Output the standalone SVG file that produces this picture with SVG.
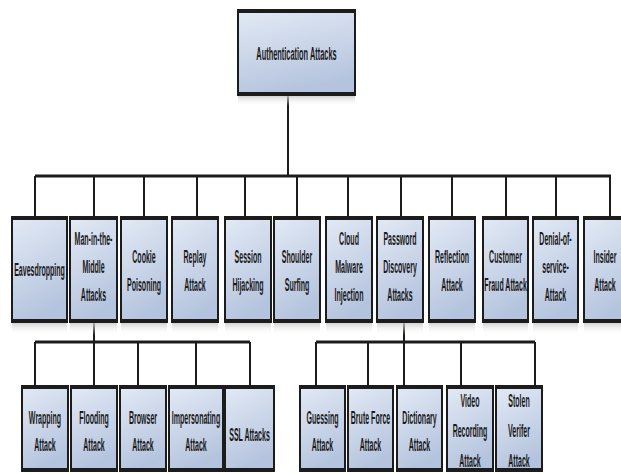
<svg xmlns="http://www.w3.org/2000/svg" width="621" height="474" viewBox="0 0 621 474">
<defs>
<linearGradient id="fill" x1="0" y1="0" x2="0.3" y2="1">
<stop offset="0" stop-color="#e3eaf5"/>
<stop offset="1" stop-color="#b5c4de"/>
</linearGradient>
<linearGradient id="refl" x1="0" y1="0" x2="0" y2="1">
<stop offset="0" stop-color="#c8c8c8" stop-opacity="0.8"/>
<stop offset="1" stop-color="#ffffff" stop-opacity="0"/>
</linearGradient>
<style>
.box{fill:url(#fill);stroke:#1c1c1c;stroke-width:2}
.edge{fill:none;stroke:#1c1c1c;stroke-width:4}
.refl{fill:url(#refl)}
.lbl{font-family:"Liberation Sans",Arial,sans-serif;font-size:19px;font-weight:bold;fill:#1a1a1a;text-anchor:middle;dominant-baseline:central}
.bus{fill:none;stroke:#1c1c1c;stroke-width:3}
.drop{fill:none;stroke:#1c1c1c;stroke-width:2}
</style>
</defs>
<rect width="621" height="474" fill="#ffffff"/>

<g id="connectors">
<path class="drop" d="M288 95V176"/>
<path class="bus" d="M35 176H611"/>
<path class="drop" d="M35 176V217M94 176V217M144 176V217M197 176V217M245 176V217M297 176V217M348 176V217M401 176V217M452 176V217M506 176V217M556 176V217M610 176V217"/>
<path class="drop" d="M94 322V386"/>
<path class="bus" d="M35 342H250"/>
<path class="drop" d="M35 342V386M138 342V386M196 342V386M250 342V386"/>
<path class="drop" d="M404 322V386"/>
<path class="bus" d="M316 342H535"/>
<path class="drop" d="M316 342V386M368 342V386M461 342V386M535 342V386"/>
</g>

<g id="root">
<rect class="refl" x="238" y="96" width="117" height="10"/>
<rect class="box" x="238" y="10" width="117" height="85"/>
<path class="edge" d="M238 11H355M238 94H355"/>
<text class="lbl" transform="translate(296.5 53) scale(0.39 1)" x="0" y="0">Authentication Attacks</text>
</g>

<g id="eavesdropping">
<rect class="refl" x="12" y="323" width="55" height="12"/>
<rect class="box" x="12" y="217" width="55" height="105"/>
<path class="edge" d="M12 218H67M12 321H67"/>
<text class="lbl" transform="translate(39.5 269) scale(0.37 1)" x="0" y="0">Eavesdropping</text>
</g>
<g id="mitm">
<rect class="refl" x="70" y="323" width="47" height="12"/>
<rect class="box" x="70" y="217" width="47" height="105"/>
<path class="edge" d="M70 218H117M70 321H117"/>
<text class="lbl" transform="translate(93.5 266) scale(0.37 1)"><tspan x="0" y="-28">Man-in-the-</tspan><tspan x="0" y="0">Middle</tspan><tspan x="0" y="28">Attacks</tspan></text>
</g>
<g id="cookie">
<rect class="refl" x="121" y="323" width="46" height="12"/>
<rect class="box" x="121" y="217" width="46" height="105"/>
<path class="edge" d="M121 218H167M121 321H167"/>
<text class="lbl" transform="translate(144 270) scale(0.37 1)"><tspan x="0" y="-14">Cookie</tspan><tspan x="0" y="14">Poisoning</tspan></text>
</g>
<g id="replay">
<rect class="refl" x="172" y="323" width="46" height="12"/>
<rect class="box" x="172" y="217" width="46" height="105"/>
<path class="edge" d="M172 218H218M172 321H218"/>
<text class="lbl" transform="translate(195 270) scale(0.37 1)"><tspan x="0" y="-14">Replay</tspan><tspan x="0" y="14">Attack</tspan></text>
</g>
<g id="session">
<rect class="refl" x="225" y="323" width="46" height="12"/>
<rect class="box" x="225" y="217" width="46" height="105"/>
<path class="edge" d="M225 218H271M225 321H271"/>
<text class="lbl" transform="translate(248 270) scale(0.37 1)"><tspan x="0" y="-14">Session</tspan><tspan x="0" y="14">Hijacking</tspan></text>
</g>
<g id="shoulder">
<rect class="refl" x="274" y="323" width="46" height="12"/>
<rect class="box" x="274" y="217" width="46" height="105"/>
<path class="edge" d="M274 218H320M274 321H320"/>
<text class="lbl" transform="translate(297 270) scale(0.37 1)"><tspan x="0" y="-14">Shoulder</tspan><tspan x="0" y="14">Surfing</tspan></text>
</g>
<g id="cloud">
<rect class="refl" x="326" y="323" width="46" height="12"/>
<rect class="box" x="326" y="217" width="46" height="105"/>
<path class="edge" d="M326 218H372M326 321H372"/>
<text class="lbl" transform="translate(349 266) scale(0.37 1)"><tspan x="0" y="-28">Cloud</tspan><tspan x="0" y="0">Malware</tspan><tspan x="0" y="28">Injection</tspan></text>
</g>
<g id="password">
<rect class="refl" x="377" y="323" width="46" height="12"/>
<rect class="box" x="377" y="217" width="46" height="105"/>
<path class="edge" d="M377 218H423M377 321H423"/>
<text class="lbl" transform="translate(400 266) scale(0.37 1)"><tspan x="0" y="-28">Password</tspan><tspan x="0" y="0">Discovery</tspan><tspan x="0" y="28">Attacks</tspan></text>
</g>
<g id="reflection">
<rect class="refl" x="429" y="323" width="46" height="12"/>
<rect class="box" x="429" y="217" width="46" height="105"/>
<path class="edge" d="M429 218H475M429 321H475"/>
<text class="lbl" transform="translate(452 270) scale(0.37 1)"><tspan x="0" y="-14">Reflection</tspan><tspan x="0" y="14">Attack</tspan></text>
</g>
<g id="customer">
<rect class="refl" x="483" y="323" width="45" height="12"/>
<rect class="box" x="483" y="217" width="45" height="105"/>
<path class="edge" d="M483 218H528M483 321H528"/>
<text class="lbl" transform="translate(505.5 270) scale(0.37 1)"><tspan x="0" y="-14">Customer</tspan><tspan x="0" y="14">Fraud Attack</tspan></text>
</g>
<g id="denial">
<rect class="refl" x="533" y="323" width="45" height="12"/>
<rect class="box" x="533" y="217" width="45" height="105"/>
<path class="edge" d="M533 218H578M533 321H578"/>
<text class="lbl" transform="translate(555.5 266) scale(0.37 1)"><tspan x="0" y="-28">Denial-of-</tspan><tspan x="0" y="0">service-</tspan><tspan x="0" y="28">Attack</tspan></text>
</g>
<g id="insider">
<rect class="refl" x="584" y="323" width="46" height="12"/>
<rect class="box" x="584" y="217" width="46" height="105"/>
<path class="edge" d="M584 218H630M584 321H630"/>
<text class="lbl" transform="translate(605 270) scale(0.37 1)"><tspan x="0" y="-14">Insider</tspan><tspan x="0" y="14">Attack</tspan></text>
</g>

<g id="wrapping">
<rect class="box" x="22" y="386" width="46" height="85"/>
<path class="edge" d="M22 387H68M22 470H68"/>
<text class="lbl" transform="translate(45 431) scale(0.37 1)"><tspan x="0" y="-13.5">Wrapping</tspan><tspan x="0" y="13.5">Attack</tspan></text>
</g>
<g id="flooding">
<rect class="box" x="71" y="386" width="46" height="85"/>
<path class="edge" d="M71 387H117M71 470H117"/>
<text class="lbl" transform="translate(94 431) scale(0.37 1)"><tspan x="0" y="-13.5">Flooding</tspan><tspan x="0" y="13.5">Attack</tspan></text>
</g>
<g id="browser">
<rect class="box" x="120" y="386" width="46" height="85"/>
<path class="edge" d="M120 387H166M120 470H166"/>
<text class="lbl" transform="translate(143 431) scale(0.37 1)"><tspan x="0" y="-13.5">Browser</tspan><tspan x="0" y="13.5">Attack</tspan></text>
</g>
<g id="impersonating">
<rect class="box" x="169" y="386" width="54" height="85"/>
<path class="edge" d="M169 387H223M169 470H223"/>
<text class="lbl" transform="translate(196 431) scale(0.37 1)"><tspan x="0" y="-13.5">Impersonating</tspan><tspan x="0" y="13.5">Attack</tspan></text>
</g>
<g id="ssl">
<rect class="box" x="225" y="386" width="49" height="85"/>
<path class="edge" d="M225 387H274M225 470H274"/>
<text class="lbl" transform="translate(249.5 434) scale(0.37 1)" x="0" y="0">SSL Attacks</text>
</g>
<g id="guessing">
<rect class="box" x="300" y="386" width="45" height="85"/>
<path class="edge" d="M300 387H345M300 470H345"/>
<text class="lbl" transform="translate(322.5 431) scale(0.37 1)"><tspan x="0" y="-13.5">Guessing</tspan><tspan x="0" y="13.5">Attack</tspan></text>
</g>
<g id="bruteforce">
<rect class="box" x="348" y="386" width="45" height="85"/>
<path class="edge" d="M348 387H393M348 470H393"/>
<text class="lbl" transform="translate(370.5 431) scale(0.37 1)"><tspan x="0" y="-13.5">Brute Force</tspan><tspan x="0" y="13.5">Attack</tspan></text>
</g>
<g id="dictionary">
<rect class="box" x="397" y="386" width="45" height="85"/>
<path class="edge" d="M397 387H442M397 470H442"/>
<text class="lbl" transform="translate(419.5 431) scale(0.37 1)"><tspan x="0" y="-13.5">Dictionary</tspan><tspan x="0" y="13.5">Attack</tspan></text>
</g>
<g id="video">
<rect class="box" x="447" y="386" width="46" height="85"/>
<path class="edge" d="M447 387H493M447 470H493"/>
<text class="lbl" transform="translate(470 430) scale(0.37 1)"><tspan x="0" y="-30">Video</tspan><tspan x="0" y="0">Recording</tspan><tspan x="0" y="30">Attack</tspan></text>
</g>
<g id="stolen">
<rect class="box" x="496" y="386" width="46" height="85"/>
<path class="edge" d="M496 387H542M496 470H542"/>
<text class="lbl" transform="translate(519 430) scale(0.37 1)"><tspan x="0" y="-30">Stolen</tspan><tspan x="0" y="0">Verifer</tspan><tspan x="0" y="30">Attack</tspan></text>
</g>
</svg>
